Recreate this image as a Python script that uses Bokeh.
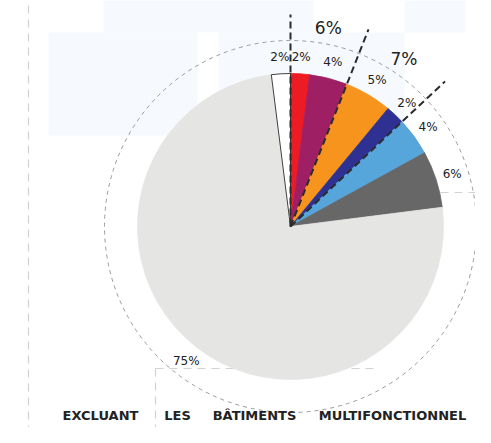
import numpy as np
from bokeh.plotting import figure
from bokeh.models import Range1d, ColumnDataSource
from bokeh.core.properties import value
from bokeh.embed import file_html
from bokeh.resources import INLINE

# ---- data (clockwise from 12 o'clock) ----
categories = ["Rouge", "Violet", "Orange", "Bleu foncé", "Bleu clair", "Gris foncé", "Gris clair", "Blanc"]
values = [2, 4, 5, 2, 4, 6, 75, 2]
slice_labels = ["2%", "4%", "5%", "2%", "4%", "6%", "75%", "2%"]
colors = ["#ed1c24", "#9e1f63", "#f7941d", "#2e3192", "#56a5db", "#666766", "#e5e5e4", "#ffffff"]
group_members = [[0, 1], [2, 3]]
group_labels = ["6%", "7%"]
title_words = ["EXCLUANT", "LES", "BÂTIMENTS", "MULTIFONCTIONNEL"]

W, H = 475, 427
p = figure(width=W, height=H, output_backend="svg", toolbar_location=None,
           x_range=Range1d(0, W), y_range=Range1d(0, H),
           min_border=0, outline_line_color=None)
p.axis.visible = False
p.grid.visible = False
p.background_fill_color = "white"
p.border_fill_color = "white"

def sy(v):  # screen y -> data y
    return H - v

# faint decorative background blocks
p.quad(left=[103, 48], right=[465, 404], top=[sy(0), sy(32)], bottom=[sy(32), sy(135)],
       fill_color="#f6f9fd", line_color=None)
p.quad(left=[197, 313], right=[218, 404], top=[sy(32), sy(0)], bottom=[sy(135), sy(32)],
       fill_color="white", line_color=None)

# faint dashed guide lines
p.segment(x0=[28, 440, 155, 155], y0=[sy(5), sy(192), sy(368), sy(368)],
          x1=[28, 475, 378, 155], y1=[sy(427), sy(192), sy(368), sy(427)],
          line_color="#d2d2d2", line_width=1.2, line_dash="8 6")

cx, cy = 290, sy(226)
R = 153

vals = np.array(values, dtype=float)
cum = np.cumsum(vals) / vals.sum()
prev = np.concatenate([[0], cum[:-1]])
a_start = np.pi / 2 - 2 * np.pi * prev
a_end = np.pi / 2 - 2 * np.pi * cum
mid = (a_start + a_end) / 2

# outer dashed circle
p.circle(x=cx, y=cy, radius=186, fill_color=None, line_color="#9a9a9a",
         line_width=1, line_dash="4 4")

line_cols = list(colors[:-1]) + ["#111111"]
src = ColumnDataSource(dict(cat=categories, v=values, start=a_end, end=a_start,
                            color=colors, lc=line_cols))
p.wedge(x=cx, y=cy, radius=R, start_angle="start", end_angle="end",
        direction="anticlock", fill_color="color", line_color="lc",
        line_width=0.8, source=src)

# group separator lines
sep_angles = [a_start[group_members[0][0]], a_end[group_members[0][-1]], a_end[group_members[1][-1]]]
p.ray(x=[cx] * 3, y=[cy] * 3, length=212, angle=sep_angles,
      line_color="#2b2b2b", line_width=2, line_dash="7 4")

# slice labels
rl = 170
p.text(x=cx + rl * np.cos(mid), y=cy + rl * np.sin(mid), text=slice_labels,
       text_font=value("DejaVu Sans"), text_font_size="12px", text_color="#222222",
       text_align="center", text_baseline="middle")

# group labels
g_mid = [(a_start[g[0]] + a_end[g[-1]]) / 2 for g in group_members]
rg = 202
p.text(x=[cx + rg * np.cos(a) for a in g_mid], y=[cy + rg * np.sin(a) for a in g_mid],
       text=group_labels, text_font=value("DejaVu Sans"), text_font_size="17px",
       text_color="#222222", text_align="center", text_baseline="middle")

# title (small caps look, spread words)
p.text(x=[100, 177, 254, 392], y=[sy(415)] * 4, text=title_words,
       text_font=value("DejaVu Sans"), text_font_style="bold", text_font_size="13px",
       text_color="#222222", text_align="center", text_baseline="alphabetic")

open("out.html", "w").write(file_html(p, INLINE))
